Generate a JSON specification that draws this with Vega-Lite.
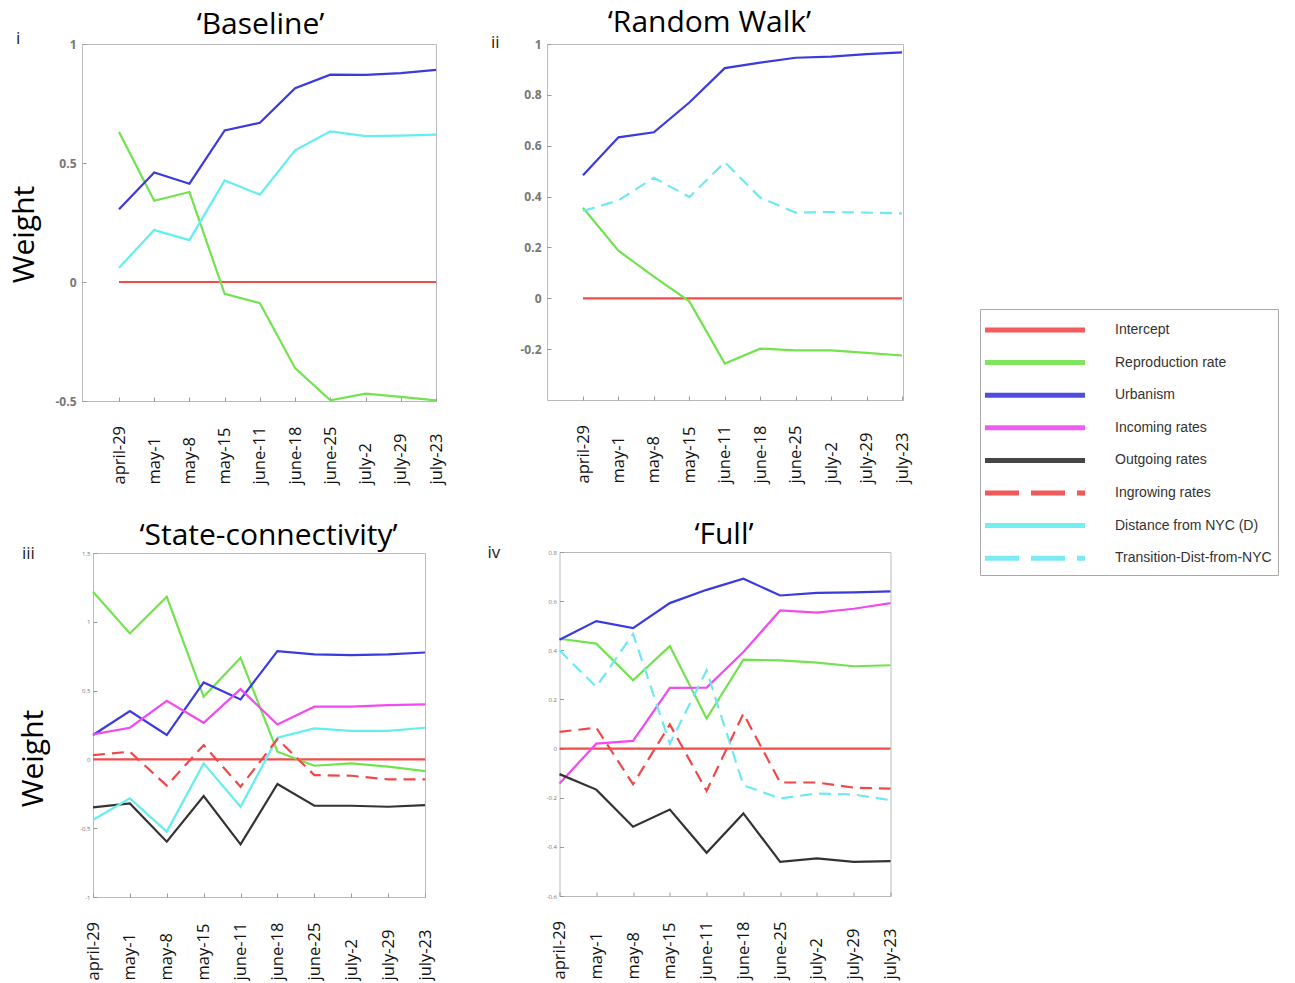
{
  "$schema": "https://vega.github.io/schema/vega-lite/v6.json",
  "background": "white",
  "padding": {"left": 8, "top": 7, "right": 5, "bottom": 0},
  "datasets": {
    "numerals": [
      {"panel": "i", "label": "i"},
      {"panel": "ii", "label": "ii"},
      {"panel": "iii", "label": "iii"},
      {"panel": "iv", "label": "iv"}
    ],
    "weights": [
      {"panel": "i", "series": "Intercept", "date": "april-29", "weight": 0},
      {"panel": "i", "series": "Intercept", "date": "may-1", "weight": 0},
      {"panel": "i", "series": "Intercept", "date": "may-8", "weight": 0},
      {"panel": "i", "series": "Intercept", "date": "may-15", "weight": 0},
      {"panel": "i", "series": "Intercept", "date": "june-11", "weight": 0},
      {"panel": "i", "series": "Intercept", "date": "june-18", "weight": 0},
      {"panel": "i", "series": "Intercept", "date": "june-25", "weight": 0},
      {"panel": "i", "series": "Intercept", "date": "july-2", "weight": 0},
      {"panel": "i", "series": "Intercept", "date": "july-29", "weight": 0},
      {"panel": "i", "series": "Intercept", "date": "july-23", "weight": 0},
      {"panel": "i", "series": "Reproduction rate", "date": "april-29", "weight": 0.63},
      {"panel": "i", "series": "Reproduction rate", "date": "may-1", "weight": 0.341},
      {"panel": "i", "series": "Reproduction rate", "date": "may-8", "weight": 0.378},
      {"panel": "i", "series": "Reproduction rate", "date": "may-15", "weight": -0.05},
      {"panel": "i", "series": "Reproduction rate", "date": "june-11", "weight": -0.089},
      {"panel": "i", "series": "Reproduction rate", "date": "june-18", "weight": -0.362},
      {"panel": "i", "series": "Reproduction rate", "date": "june-25", "weight": -0.497},
      {"panel": "i", "series": "Reproduction rate", "date": "july-2", "weight": -0.469},
      {"panel": "i", "series": "Reproduction rate", "date": "july-29", "weight": -0.483},
      {"panel": "i", "series": "Reproduction rate", "date": "july-23", "weight": -0.497},
      {"panel": "i", "series": "Urbanism", "date": "april-29", "weight": 0.306},
      {"panel": "i", "series": "Urbanism", "date": "may-1", "weight": 0.46},
      {"panel": "i", "series": "Urbanism", "date": "may-8", "weight": 0.413},
      {"panel": "i", "series": "Urbanism", "date": "may-15", "weight": 0.637},
      {"panel": "i", "series": "Urbanism", "date": "june-11", "weight": 0.669},
      {"panel": "i", "series": "Urbanism", "date": "june-18", "weight": 0.814},
      {"panel": "i", "series": "Urbanism", "date": "june-25", "weight": 0.871},
      {"panel": "i", "series": "Urbanism", "date": "july-2", "weight": 0.87},
      {"panel": "i", "series": "Urbanism", "date": "july-29", "weight": 0.878},
      {"panel": "i", "series": "Urbanism", "date": "july-23", "weight": 0.891},
      {"panel": "i", "series": "Distance from NYC (D)", "date": "april-29", "weight": 0.06},
      {"panel": "i", "series": "Distance from NYC (D)", "date": "may-1", "weight": 0.218},
      {"panel": "i", "series": "Distance from NYC (D)", "date": "may-8", "weight": 0.176},
      {"panel": "i", "series": "Distance from NYC (D)", "date": "may-15", "weight": 0.427},
      {"panel": "i", "series": "Distance from NYC (D)", "date": "june-11", "weight": 0.367},
      {"panel": "i", "series": "Distance from NYC (D)", "date": "june-18", "weight": 0.553},
      {"panel": "i", "series": "Distance from NYC (D)", "date": "june-25", "weight": 0.633},
      {"panel": "i", "series": "Distance from NYC (D)", "date": "july-2", "weight": 0.613},
      {"panel": "i", "series": "Distance from NYC (D)", "date": "july-29", "weight": 0.615},
      {"panel": "i", "series": "Distance from NYC (D)", "date": "july-23", "weight": 0.619},

      {"panel": "ii", "series": "Intercept", "date": "april-29", "weight": 0},
      {"panel": "ii", "series": "Intercept", "date": "may-1", "weight": 0},
      {"panel": "ii", "series": "Intercept", "date": "may-8", "weight": 0},
      {"panel": "ii", "series": "Intercept", "date": "may-15", "weight": 0},
      {"panel": "ii", "series": "Intercept", "date": "june-11", "weight": 0},
      {"panel": "ii", "series": "Intercept", "date": "june-18", "weight": 0},
      {"panel": "ii", "series": "Intercept", "date": "june-25", "weight": 0},
      {"panel": "ii", "series": "Intercept", "date": "july-2", "weight": 0},
      {"panel": "ii", "series": "Intercept", "date": "july-29", "weight": 0},
      {"panel": "ii", "series": "Intercept", "date": "july-23", "weight": 0},
      {"panel": "ii", "series": "Reproduction rate", "date": "april-29", "weight": 0.356},
      {"panel": "ii", "series": "Reproduction rate", "date": "may-1", "weight": 0.187},
      {"panel": "ii", "series": "Reproduction rate", "date": "may-8", "weight": 0.085},
      {"panel": "ii", "series": "Reproduction rate", "date": "may-15", "weight": -0.012},
      {"panel": "ii", "series": "Reproduction rate", "date": "june-11", "weight": -0.257},
      {"panel": "ii", "series": "Reproduction rate", "date": "june-18", "weight": -0.198},
      {"panel": "ii", "series": "Reproduction rate", "date": "june-25", "weight": -0.205},
      {"panel": "ii", "series": "Reproduction rate", "date": "july-2", "weight": -0.205},
      {"panel": "ii", "series": "Reproduction rate", "date": "july-29", "weight": -0.215},
      {"panel": "ii", "series": "Reproduction rate", "date": "july-23", "weight": -0.225},
      {"panel": "ii", "series": "Urbanism", "date": "april-29", "weight": 0.484},
      {"panel": "ii", "series": "Urbanism", "date": "may-1", "weight": 0.633},
      {"panel": "ii", "series": "Urbanism", "date": "may-8", "weight": 0.653},
      {"panel": "ii", "series": "Urbanism", "date": "may-15", "weight": 0.77},
      {"panel": "ii", "series": "Urbanism", "date": "june-11", "weight": 0.905},
      {"panel": "ii", "series": "Urbanism", "date": "june-18", "weight": 0.927},
      {"panel": "ii", "series": "Urbanism", "date": "june-25", "weight": 0.946},
      {"panel": "ii", "series": "Urbanism", "date": "july-2", "weight": 0.95},
      {"panel": "ii", "series": "Urbanism", "date": "july-29", "weight": 0.96},
      {"panel": "ii", "series": "Urbanism", "date": "july-23", "weight": 0.967},
      {"panel": "ii", "series": "Transition-Dist-from-NYC", "date": "april-29", "weight": 0.343},
      {"panel": "ii", "series": "Transition-Dist-from-NYC", "date": "may-1", "weight": 0.385},
      {"panel": "ii", "series": "Transition-Dist-from-NYC", "date": "may-8", "weight": 0.474},
      {"panel": "ii", "series": "Transition-Dist-from-NYC", "date": "may-15", "weight": 0.398},
      {"panel": "ii", "series": "Transition-Dist-from-NYC", "date": "june-11", "weight": 0.535},
      {"panel": "ii", "series": "Transition-Dist-from-NYC", "date": "june-18", "weight": 0.396},
      {"panel": "ii", "series": "Transition-Dist-from-NYC", "date": "june-25", "weight": 0.337},
      {"panel": "ii", "series": "Transition-Dist-from-NYC", "date": "july-2", "weight": 0.339},
      {"panel": "ii", "series": "Transition-Dist-from-NYC", "date": "july-29", "weight": 0.337},
      {"panel": "ii", "series": "Transition-Dist-from-NYC", "date": "july-23", "weight": 0.334},

      {"panel": "iii", "series": "Intercept", "date": "april-29", "weight": 0},
      {"panel": "iii", "series": "Intercept", "date": "may-1", "weight": 0},
      {"panel": "iii", "series": "Intercept", "date": "may-8", "weight": 0},
      {"panel": "iii", "series": "Intercept", "date": "may-15", "weight": 0},
      {"panel": "iii", "series": "Intercept", "date": "june-11", "weight": 0},
      {"panel": "iii", "series": "Intercept", "date": "june-18", "weight": 0},
      {"panel": "iii", "series": "Intercept", "date": "june-25", "weight": 0},
      {"panel": "iii", "series": "Intercept", "date": "july-2", "weight": 0},
      {"panel": "iii", "series": "Intercept", "date": "july-29", "weight": 0},
      {"panel": "iii", "series": "Intercept", "date": "july-23", "weight": 0},
      {"panel": "iii", "series": "Reproduction rate", "date": "april-29", "weight": 1.218},
      {"panel": "iii", "series": "Reproduction rate", "date": "may-1", "weight": 0.915},
      {"panel": "iii", "series": "Reproduction rate", "date": "may-8", "weight": 1.182},
      {"panel": "iii", "series": "Reproduction rate", "date": "may-15", "weight": 0.455},
      {"panel": "iii", "series": "Reproduction rate", "date": "june-11", "weight": 0.738},
      {"panel": "iii", "series": "Reproduction rate", "date": "june-18", "weight": 0.056},
      {"panel": "iii", "series": "Reproduction rate", "date": "june-25", "weight": -0.046},
      {"panel": "iii", "series": "Reproduction rate", "date": "july-2", "weight": -0.029},
      {"panel": "iii", "series": "Reproduction rate", "date": "july-29", "weight": -0.053},
      {"panel": "iii", "series": "Reproduction rate", "date": "july-23", "weight": -0.085},
      {"panel": "iii", "series": "Urbanism", "date": "april-29", "weight": 0.177},
      {"panel": "iii", "series": "Urbanism", "date": "may-1", "weight": 0.351},
      {"panel": "iii", "series": "Urbanism", "date": "may-8", "weight": 0.177},
      {"panel": "iii", "series": "Urbanism", "date": "may-15", "weight": 0.559},
      {"panel": "iii", "series": "Urbanism", "date": "june-11", "weight": 0.436},
      {"panel": "iii", "series": "Urbanism", "date": "june-18", "weight": 0.787},
      {"panel": "iii", "series": "Urbanism", "date": "june-25", "weight": 0.763},
      {"panel": "iii", "series": "Urbanism", "date": "july-2", "weight": 0.758},
      {"panel": "iii", "series": "Urbanism", "date": "july-29", "weight": 0.763},
      {"panel": "iii", "series": "Urbanism", "date": "july-23", "weight": 0.777},
      {"panel": "iii", "series": "Incoming rates", "date": "april-29", "weight": 0.182},
      {"panel": "iii", "series": "Incoming rates", "date": "may-1", "weight": 0.23},
      {"panel": "iii", "series": "Incoming rates", "date": "may-8", "weight": 0.426},
      {"panel": "iii", "series": "Incoming rates", "date": "may-15", "weight": 0.266},
      {"panel": "iii", "series": "Incoming rates", "date": "june-11", "weight": 0.511},
      {"panel": "iii", "series": "Incoming rates", "date": "june-18", "weight": 0.254},
      {"panel": "iii", "series": "Incoming rates", "date": "june-25", "weight": 0.383},
      {"panel": "iii", "series": "Incoming rates", "date": "july-2", "weight": 0.383},
      {"panel": "iii", "series": "Incoming rates", "date": "july-29", "weight": 0.395},
      {"panel": "iii", "series": "Incoming rates", "date": "july-23", "weight": 0.4},
      {"panel": "iii", "series": "Outgoing rates", "date": "april-29", "weight": -0.349},
      {"panel": "iii", "series": "Outgoing rates", "date": "may-1", "weight": -0.32},
      {"panel": "iii", "series": "Outgoing rates", "date": "may-8", "weight": -0.598},
      {"panel": "iii", "series": "Outgoing rates", "date": "may-15", "weight": -0.266},
      {"panel": "iii", "series": "Outgoing rates", "date": "june-11", "weight": -0.617},
      {"panel": "iii", "series": "Outgoing rates", "date": "june-18", "weight": -0.179},
      {"panel": "iii", "series": "Outgoing rates", "date": "june-25", "weight": -0.337},
      {"panel": "iii", "series": "Outgoing rates", "date": "july-2", "weight": -0.337},
      {"panel": "iii", "series": "Outgoing rates", "date": "july-29", "weight": -0.344},
      {"panel": "iii", "series": "Outgoing rates", "date": "july-23", "weight": -0.332},
      {"panel": "iii", "series": "Ingrowing rates", "date": "april-29", "weight": 0.031},
      {"panel": "iii", "series": "Ingrowing rates", "date": "may-1", "weight": 0.056},
      {"panel": "iii", "series": "Ingrowing rates", "date": "may-8", "weight": -0.191},
      {"panel": "iii", "series": "Ingrowing rates", "date": "may-15", "weight": 0.104},
      {"panel": "iii", "series": "Ingrowing rates", "date": "june-11", "weight": -0.199},
      {"panel": "iii", "series": "Ingrowing rates", "date": "june-18", "weight": 0.148},
      {"panel": "iii", "series": "Ingrowing rates", "date": "june-25", "weight": -0.114},
      {"panel": "iii", "series": "Ingrowing rates", "date": "july-2", "weight": -0.119},
      {"panel": "iii", "series": "Ingrowing rates", "date": "july-29", "weight": -0.145},
      {"panel": "iii", "series": "Ingrowing rates", "date": "july-23", "weight": -0.145},
      {"panel": "iii", "series": "Distance from NYC (D)", "date": "april-29", "weight": -0.44},
      {"panel": "iii", "series": "Distance from NYC (D)", "date": "may-1", "weight": -0.283},
      {"panel": "iii", "series": "Distance from NYC (D)", "date": "may-8", "weight": -0.525},
      {"panel": "iii", "series": "Distance from NYC (D)", "date": "may-15", "weight": -0.029},
      {"panel": "iii", "series": "Distance from NYC (D)", "date": "june-11", "weight": -0.344},
      {"panel": "iii", "series": "Distance from NYC (D)", "date": "june-18", "weight": 0.157},
      {"panel": "iii", "series": "Distance from NYC (D)", "date": "june-25", "weight": 0.225},
      {"panel": "iii", "series": "Distance from NYC (D)", "date": "july-2", "weight": 0.208},
      {"panel": "iii", "series": "Distance from NYC (D)", "date": "july-29", "weight": 0.208},
      {"panel": "iii", "series": "Distance from NYC (D)", "date": "july-23", "weight": 0.23},

      {"panel": "iv", "series": "Intercept", "date": "april-29", "weight": 0},
      {"panel": "iv", "series": "Intercept", "date": "may-1", "weight": 0},
      {"panel": "iv", "series": "Intercept", "date": "may-8", "weight": 0},
      {"panel": "iv", "series": "Intercept", "date": "may-15", "weight": 0},
      {"panel": "iv", "series": "Intercept", "date": "june-11", "weight": 0},
      {"panel": "iv", "series": "Intercept", "date": "june-18", "weight": 0},
      {"panel": "iv", "series": "Intercept", "date": "june-25", "weight": 0},
      {"panel": "iv", "series": "Intercept", "date": "july-2", "weight": 0},
      {"panel": "iv", "series": "Intercept", "date": "july-29", "weight": 0},
      {"panel": "iv", "series": "Intercept", "date": "july-23", "weight": 0},
      {"panel": "iv", "series": "Reproduction rate", "date": "april-29", "weight": 0.447},
      {"panel": "iv", "series": "Reproduction rate", "date": "may-1", "weight": 0.427},
      {"panel": "iv", "series": "Reproduction rate", "date": "may-8", "weight": 0.278},
      {"panel": "iv", "series": "Reproduction rate", "date": "may-15", "weight": 0.417},
      {"panel": "iv", "series": "Reproduction rate", "date": "june-11", "weight": 0.122},
      {"panel": "iv", "series": "Reproduction rate", "date": "june-18", "weight": 0.362},
      {"panel": "iv", "series": "Reproduction rate", "date": "june-25", "weight": 0.359},
      {"panel": "iv", "series": "Reproduction rate", "date": "july-2", "weight": 0.35},
      {"panel": "iv", "series": "Reproduction rate", "date": "july-29", "weight": 0.335},
      {"panel": "iv", "series": "Reproduction rate", "date": "july-23", "weight": 0.339},
      {"panel": "iv", "series": "Urbanism", "date": "april-29", "weight": 0.443},
      {"panel": "iv", "series": "Urbanism", "date": "may-1", "weight": 0.519},
      {"panel": "iv", "series": "Urbanism", "date": "may-8", "weight": 0.49},
      {"panel": "iv", "series": "Urbanism", "date": "may-15", "weight": 0.592},
      {"panel": "iv", "series": "Urbanism", "date": "june-11", "weight": 0.646},
      {"panel": "iv", "series": "Urbanism", "date": "june-18", "weight": 0.691},
      {"panel": "iv", "series": "Urbanism", "date": "june-25", "weight": 0.623},
      {"panel": "iv", "series": "Urbanism", "date": "july-2", "weight": 0.634},
      {"panel": "iv", "series": "Urbanism", "date": "july-29", "weight": 0.636},
      {"panel": "iv", "series": "Urbanism", "date": "july-23", "weight": 0.64},
      {"panel": "iv", "series": "Incoming rates", "date": "april-29", "weight": -0.142},
      {"panel": "iv", "series": "Incoming rates", "date": "may-1", "weight": 0.02},
      {"panel": "iv", "series": "Incoming rates", "date": "may-8", "weight": 0.031},
      {"panel": "iv", "series": "Incoming rates", "date": "may-15", "weight": 0.247},
      {"panel": "iv", "series": "Incoming rates", "date": "june-11", "weight": 0.248},
      {"panel": "iv", "series": "Incoming rates", "date": "june-18", "weight": 0.393},
      {"panel": "iv", "series": "Incoming rates", "date": "june-25", "weight": 0.562},
      {"panel": "iv", "series": "Incoming rates", "date": "july-2", "weight": 0.553},
      {"panel": "iv", "series": "Incoming rates", "date": "july-29", "weight": 0.569},
      {"panel": "iv", "series": "Incoming rates", "date": "july-23", "weight": 0.592},
      {"panel": "iv", "series": "Outgoing rates", "date": "april-29", "weight": -0.104},
      {"panel": "iv", "series": "Outgoing rates", "date": "may-1", "weight": -0.167},
      {"panel": "iv", "series": "Outgoing rates", "date": "may-8", "weight": -0.318},
      {"panel": "iv", "series": "Outgoing rates", "date": "may-15", "weight": -0.248},
      {"panel": "iv", "series": "Outgoing rates", "date": "june-11", "weight": -0.424},
      {"panel": "iv", "series": "Outgoing rates", "date": "june-18", "weight": -0.264},
      {"panel": "iv", "series": "Outgoing rates", "date": "june-25", "weight": -0.461},
      {"panel": "iv", "series": "Outgoing rates", "date": "july-2", "weight": -0.447},
      {"panel": "iv", "series": "Outgoing rates", "date": "july-29", "weight": -0.461},
      {"panel": "iv", "series": "Outgoing rates", "date": "july-23", "weight": -0.458},
      {"panel": "iv", "series": "Ingrowing rates", "date": "april-29", "weight": 0.068},
      {"panel": "iv", "series": "Ingrowing rates", "date": "may-1", "weight": 0.085},
      {"panel": "iv", "series": "Ingrowing rates", "date": "may-8", "weight": -0.145},
      {"panel": "iv", "series": "Ingrowing rates", "date": "may-15", "weight": 0.098},
      {"panel": "iv", "series": "Ingrowing rates", "date": "june-11", "weight": -0.172},
      {"panel": "iv", "series": "Ingrowing rates", "date": "june-18", "weight": 0.142},
      {"panel": "iv", "series": "Ingrowing rates", "date": "june-25", "weight": -0.138},
      {"panel": "iv", "series": "Ingrowing rates", "date": "july-2", "weight": -0.138},
      {"panel": "iv", "series": "Ingrowing rates", "date": "july-29", "weight": -0.159},
      {"panel": "iv", "series": "Ingrowing rates", "date": "july-23", "weight": -0.163},
      {"panel": "iv", "series": "Transition-Dist-from-NYC", "date": "april-29", "weight": 0.4},
      {"panel": "iv", "series": "Transition-Dist-from-NYC", "date": "may-1", "weight": 0.251},
      {"panel": "iv", "series": "Transition-Dist-from-NYC", "date": "may-8", "weight": 0.467},
      {"panel": "iv", "series": "Transition-Dist-from-NYC", "date": "may-15", "weight": 0.02},
      {"panel": "iv", "series": "Transition-Dist-from-NYC", "date": "june-11", "weight": 0.318},
      {"panel": "iv", "series": "Transition-Dist-from-NYC", "date": "june-18", "weight": -0.149},
      {"panel": "iv", "series": "Transition-Dist-from-NYC", "date": "june-25", "weight": -0.203},
      {"panel": "iv", "series": "Transition-Dist-from-NYC", "date": "july-2", "weight": -0.183},
      {"panel": "iv", "series": "Transition-Dist-from-NYC", "date": "july-29", "weight": -0.187},
      {"panel": "iv", "series": "Transition-Dist-from-NYC", "date": "july-23", "weight": -0.21}
    ]
  },
  "spacing": 42,
  "hconcat": [
    {
      "vconcat": [
        {
          "width": 354, "height": 357,
          "layer": [
            {
              "data": {"name": "weights"},
              "transform": [{"filter": "datum.panel === 'i'"}],
              "mark": {"type": "line", "strokeWidth": 2.2},
              "encoding": {
                "x": {"field": "date", "type": "ordinal", "title": null,
                      "sort": ["april-29","may-1","may-8","may-15","june-11","june-18","june-25","july-2","july-29","july-23"],
                      "scale": {"domain": ["april-29","may-1","may-8","may-15","june-11","june-18","june-25","july-2","july-29","july-23"], "range": [37, 354], "padding": 0},
                      "axis": {"orient": "bottom"}},
                "y": {"field": "weight", "type": "quantitative", "scale": {"domain": [-0.5, 1], "nice": false, "zero": false},
                      "axis": {"values": [-0.5, 0, 0.5, 1], "title": "Weight", "titleX": -49, "titleY": 190, "titleAlign": "center", "titleBaseline": "alphabetic"}},
                "color": {"field": "series", "type": "nominal",
                          "scale": {"domain": ["Intercept","Reproduction rate","Urbanism","Incoming rates","Outgoing rates","Ingrowing rates","Distance from NYC (D)","Transition-Dist-from-NYC"],
                                    "range": ["#f24b4b","#72e34e","#3a3adf","#f04af0","#333333","#f04848","#64eeee","#6ee8f2"]},
                          "legend": {"title": null, "orient": "none", "legendX": 898, "legendY": 265, "symbolType": "M-4,0H4", "symbolSize": 625, "symbolStrokeWidth": 5, "symbolOpacity": 0.9, "symbolOffset": 34, "labelFont": "Liberation Sans", "labelFontSize": 14, "labelColor": "#333", "labelOffset": 65, "rowPadding": 7.6, "padding": 6, "strokeColor": "#aaa", "fillColor": "#fff", "labelLimit": 300,
                                     "encode": {"symbols": {"update": {"strokeDash": {"signal": "datum.value === 'Ingrowing rates' || datum.value === 'Transition-Dist-from-NYC' ? [34, 12] : [1, 0]"}}}}}}
              }
            },
            {
              "data": {"name": "numerals"},
              "transform": [{"filter": "datum.panel === 'i'"}],
              "mark": {"type": "text", "align": "left", "baseline": "alphabetic", "dx": -103, "dy": 0, "fontSize": 17, "font": "Open Sans", "color": "#222"},
              "encoding": {
                "x": {"datum": "april-29", "type": "ordinal",
                      "axis": {"orient": "top", "title": "‘Baseline’", "labels": false, "ticks": false, "domain": false, "titleX": 178, "titleY": -11, "titleAlign": "center", "titleBaseline": "alphabetic", "titleAngle": 0}},
                "y": {"datum": 1, "type": "quantitative"},
                "text": {"field": "label"}}
            }
          ]
        },
        {
          "width": 332, "height": 344,
          "layer": [
            {
              "data": {"name": "weights"},
              "transform": [{"filter": "datum.panel === 'iii' && datum.series !== 'Ingrowing rates'"}],
              "mark": {"type": "line", "strokeWidth": 2.2},
              "encoding": {
                "x": {"field": "date", "type": "ordinal", "title": null,
                      "sort": ["april-29","may-1","may-8","may-15","june-11","june-18","june-25","july-2","july-29","july-23"],
                      "scale": {"domain": ["april-29","may-1","may-8","may-15","june-11","june-18","june-25","july-2","july-29","july-23"], "padding": 0},
                      "axis": {"orient": "bottom"}},
                "y": {"field": "weight", "type": "quantitative", "scale": {"domain": [-1, 1.5], "nice": false, "zero": false},
                      "axis": {"values": [-1, -0.5, 0, 0.5, 1, 1.5], "labelFontSize": 6, "labelFontWeight": "normal", "labelPadding": 7, "title": "Weight", "titleX": -51, "titleY": 205, "titleAlign": "center", "titleBaseline": "alphabetic"}},
                "color": {"field": "series", "type": "nominal",
                          "scale": {"domain": ["Intercept","Reproduction rate","Urbanism","Incoming rates","Outgoing rates","Ingrowing rates","Distance from NYC (D)","Transition-Dist-from-NYC"],
                                    "range": ["#f24b4b","#72e34e","#3a3adf","#f04af0","#333333","#f04848","#64eeee","#6ee8f2"]}}
              }
            },
            {
              "data": {"name": "weights"},
              "transform": [{"filter": "datum.panel === 'iii' && datum.series === 'Ingrowing rates'"}],
              "mark": {"type": "line", "strokeWidth": 2.2, "strokeDash": [12, 7]},
              "encoding": {
                "x": {"field": "date", "type": "ordinal", "sort": ["april-29","may-1","may-8","may-15","june-11","june-18","june-25","july-2","july-29","july-23"], "axis": null},
                "y": {"field": "weight", "type": "quantitative"},
                "color": {"field": "series", "type": "nominal"}
              }
            },
            {
              "data": {"name": "numerals"},
              "transform": [{"filter": "datum.panel === 'iii'"}],
              "mark": {"type": "text", "align": "left", "baseline": "alphabetic", "dx": -71, "dy": 6, "fontSize": 17, "font": "Open Sans", "color": "#222"},
              "encoding": {
                "x": {"datum": "april-29", "type": "ordinal",
                      "axis": {"orient": "top", "title": "‘State-connectivity’", "labels": false, "ticks": false, "domain": false, "titleX": 175, "titleY": -9, "titleAlign": "center", "titleBaseline": "alphabetic", "titleAngle": 0}},
                "y": {"datum": 1.5, "type": "quantitative"},
                "text": {"field": "label"}}
            }
          ]
        }
      ],
      "bounds": "flush",
      "center": true,
      "spacing": 152
    },
    {
      "vconcat": [
        {
          "width": 356, "height": 356,
          "layer": [
            {
              "data": {"name": "weights"},
              "transform": [{"filter": "datum.panel === 'ii' && datum.series !== 'Transition-Dist-from-NYC'"}],
              "mark": {"type": "line", "strokeWidth": 2.2},
              "encoding": {
                "x": {"field": "date", "type": "ordinal", "title": null,
                      "sort": ["april-29","may-1","may-8","may-15","june-11","june-18","june-25","july-2","july-29","july-23"],
                      "scale": {"domain": ["april-29","may-1","may-8","may-15","june-11","june-18","june-25","july-2","july-29","july-23"], "range": [36, 355], "padding": 0},
                      "axis": {"orient": "bottom"}},
                "y": {"field": "weight", "type": "quantitative", "scale": {"domain": [-0.4, 1], "nice": false, "zero": false},
                      "axis": {"values": [-0.2, 0, 0.2, 0.4, 0.6, 0.8, 1], "title": null}},
                "color": {"field": "series", "type": "nominal",
                          "scale": {"domain": ["Intercept","Reproduction rate","Urbanism","Incoming rates","Outgoing rates","Ingrowing rates","Distance from NYC (D)","Transition-Dist-from-NYC"],
                                    "range": ["#f24b4b","#72e34e","#3a3adf","#f04af0","#333333","#f04848","#64eeee","#6ee8f2"]}}
              }
            },
            {
              "data": {"name": "weights"},
              "transform": [{"filter": "datum.panel === 'ii' && datum.series === 'Transition-Dist-from-NYC'"}],
              "mark": {"type": "line", "strokeWidth": 2.2, "strokeDash": [12, 7]},
              "encoding": {
                "x": {"field": "date", "type": "ordinal", "sort": ["april-29","may-1","may-8","may-15","june-11","june-18","june-25","july-2","july-29","july-23"], "axis": null},
                "y": {"field": "weight", "type": "quantitative"},
                "color": {"field": "series", "type": "nominal"}
              }
            },
            {
              "data": {"name": "numerals"},
              "transform": [{"filter": "datum.panel === 'ii'"}],
              "mark": {"type": "text", "align": "left", "baseline": "alphabetic", "dx": -92, "dy": 4, "fontSize": 17, "font": "Open Sans", "color": "#222"},
              "encoding": {
                "x": {"datum": "april-29", "type": "ordinal",
                      "axis": {"orient": "top", "title": "‘Random Walk’", "labels": false, "ticks": false, "domain": false, "titleX": 162, "titleY": -12.5, "titleAlign": "center", "titleBaseline": "alphabetic", "titleAngle": 0}},
                "y": {"datum": 1, "type": "quantitative"},
                "text": {"field": "label"}}
            }
          ]
        },
        {
          "width": 331, "height": 344,
          "layer": [
            {
              "data": {"name": "weights"},
              "transform": [{"filter": "datum.panel === 'iv' && datum.series !== 'Ingrowing rates' && datum.series !== 'Transition-Dist-from-NYC'"}],
              "mark": {"type": "line", "strokeWidth": 2.2},
              "encoding": {
                "x": {"field": "date", "type": "ordinal", "title": null,
                      "sort": ["april-29","may-1","may-8","may-15","june-11","june-18","june-25","july-2","july-29","july-23"],
                      "scale": {"domain": ["april-29","may-1","may-8","may-15","june-11","june-18","june-25","july-2","july-29","july-23"], "padding": 0},
                      "axis": {"orient": "bottom"}},
                "y": {"field": "weight", "type": "quantitative", "scale": {"domain": [-0.6, 0.8], "nice": false, "zero": false},
                      "axis": {"values": [-0.6, -0.4, -0.2, 0, 0.2, 0.4, 0.6, 0.8], "labelFontSize": 6, "labelFontWeight": "normal", "labelPadding": 7, "title": null}},
                "color": {"field": "series", "type": "nominal",
                          "scale": {"domain": ["Intercept","Reproduction rate","Urbanism","Incoming rates","Outgoing rates","Ingrowing rates","Distance from NYC (D)","Transition-Dist-from-NYC"],
                                    "range": ["#f24b4b","#72e34e","#3a3adf","#f04af0","#333333","#f04848","#64eeee","#6ee8f2"]}}
              }
            },
            {
              "data": {"name": "weights"},
              "transform": [{"filter": "datum.panel === 'iv' && (datum.series === 'Ingrowing rates' || datum.series === 'Transition-Dist-from-NYC')"}],
              "mark": {"type": "line", "strokeWidth": 2.2, "strokeDash": [12, 7]},
              "encoding": {
                "x": {"field": "date", "type": "ordinal", "sort": ["april-29","may-1","may-8","may-15","june-11","june-18","june-25","july-2","july-29","july-23"], "axis": null},
                "y": {"field": "weight", "type": "quantitative"},
                "color": {"field": "series", "type": "nominal"}
              }
            },
            {
              "data": {"name": "numerals"},
              "transform": [{"filter": "datum.panel === 'iv'"}],
              "mark": {"type": "text", "align": "left", "baseline": "alphabetic", "dx": -72, "dy": 6, "fontSize": 17, "font": "Open Sans", "color": "#222"},
              "encoding": {
                "x": {"datum": "april-29", "type": "ordinal",
                      "axis": {"orient": "top", "title": "‘Full’", "labels": false, "ticks": false, "domain": false, "titleX": 164, "titleY": -9, "titleAlign": "center", "titleBaseline": "alphabetic", "titleAngle": 0}},
                "y": {"datum": 0.8, "type": "quantitative"},
                "text": {"field": "label"}}
            }
          ]
        }
      ],
      "bounds": "flush",
      "center": true,
      "spacing": 152
    }
  ],
  "config": {
    "view": {"stroke": "#bbbbbb", "strokeWidth": 1},
    "font": "Open Sans",
    "axis": {"grid": false, "domain": false, "ticks": true, "tickSize": -4, "tickColor": "#999",
             "labelFont": "Open Sans", "titleFont": "Open Sans", "titleFontWeight": "normal", "titleColor": "#000", "titleFontSize": 30},
    "axisX": {"labelAngle": 270, "labelAlign": "left", "labelBaseline": "middle", "labelFontSize": 16.5, "labelColor": "#111", "labelPadding": 87, "labelOverlap": false},
    "axisY": {"labelFontSize": 12, "labelFontWeight": "bold", "labelColor": "#777", "labelPadding": 10, "labelExpr": "'' + datum.value"}
  }
}
